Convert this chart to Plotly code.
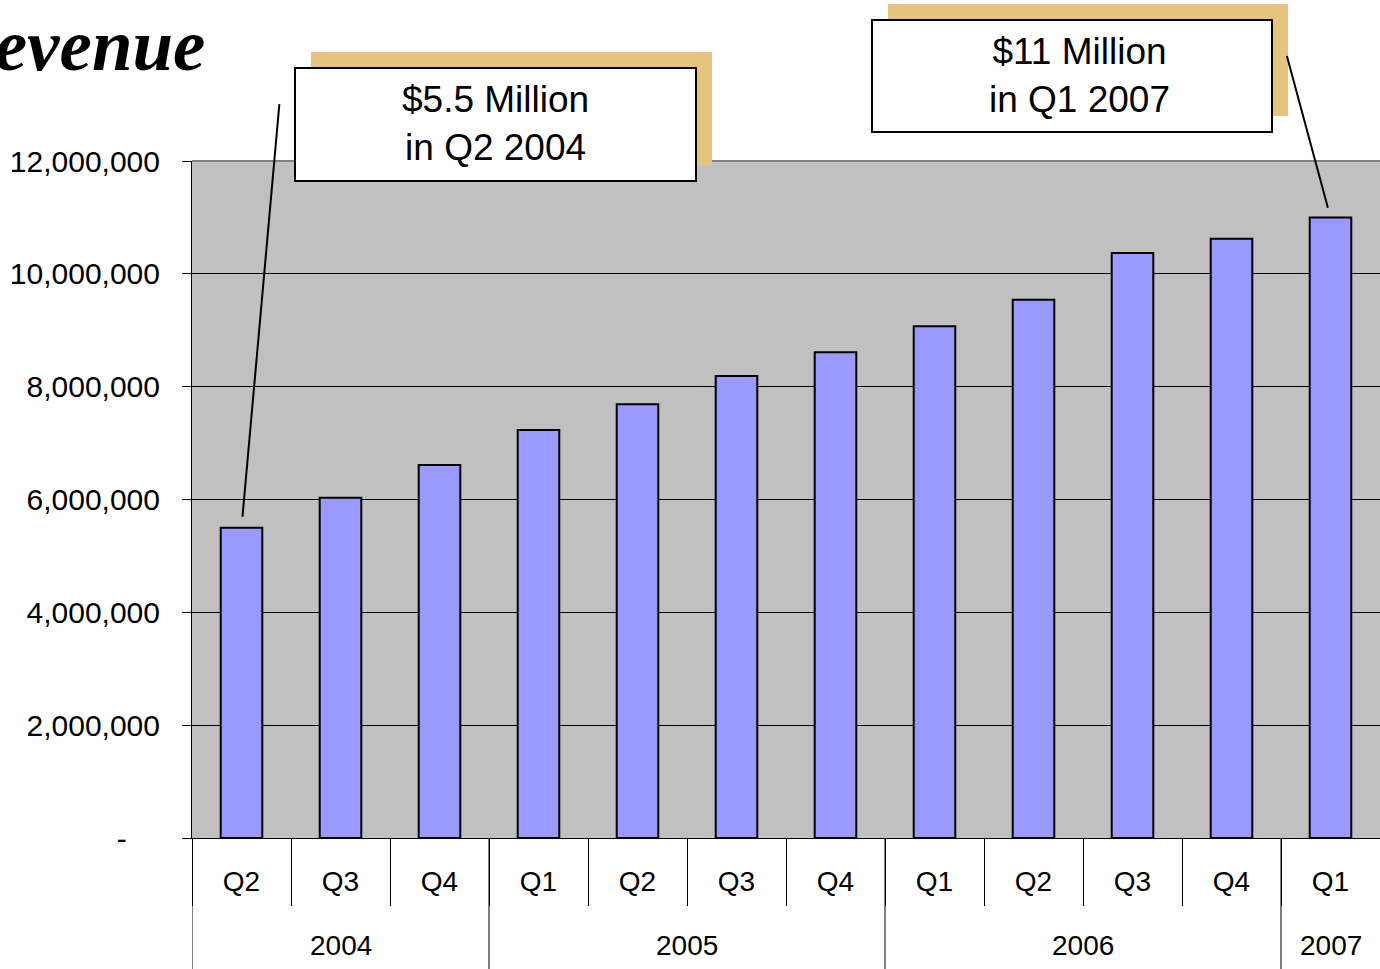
import plotly.graph_objects as go

# Quarterly revenue, Q2 2004 - Q1 2007
years = ["2004", "2004", "2004", "2005", "2005", "2005", "2005",
         "2006", "2006", "2006", "2006", "2007"]
quarters = ["Q2", "Q3", "Q4", "Q1", "Q2", "Q3", "Q4",
            "Q1", "Q2", "Q3", "Q4", "Q1"]
revenue = [5.5e6, 6.03e6, 6.61e6, 7.23e6, 7.69e6, 8.19e6, 8.61e6,
           9.07e6, 9.54e6, 10.37e6, 10.62e6, 11.0e6]

y_ticks = [0, 2e6, 4e6, 6e6, 8e6, 10e6, 12e6]
# accounting-style zero: a dash set in from the right edge
y_ticktext = ["-" + "\u00a0" * 4 if v == 0 else f"{int(v):,}" for v in y_ticks]

callouts = [
    {"text": "$5.5 Million<br>in Q2 2004", "idx": 0},
    {"text": "$11 Million<br>in Q1 2007", "idx": 11},
]

W, H = 1380, 969
L, R, T, B = 192, 0, 161, 131
PW, PH = W - L - R, H - T - B


def px_x(px):
    return (px - L) / PW


def px_y(py):
    return (H - B - py) / PH


cats = [f"{q} {y}" for y, q in zip(years, quarters)]

fig = go.Figure()
fig.add_trace(go.Bar(
    x=cats,
    y=revenue,
    width=0.42,
    marker=dict(color="#9999FF", line=dict(color="black", width=2)),
))

fig.update_layout(
    width=W, height=H,
    margin=dict(l=L, r=R, t=T, b=B, pad=0),
    paper_bgcolor="white",
    plot_bgcolor="#C0C0C0",
    showlegend=False,
    font=dict(family="Liberation Sans, Arial", size=28, color="black"),
)

fig.update_xaxes(
    type="category",
    categoryorder="array", categoryarray=cats,
    tickvals=cats, ticktext=quarters,
    range=[-0.5, len(revenue) - 0.5],
    showline=True, linecolor="black", linewidth=1,
    ticks="outside", tickson="boundaries", ticklen=67,
    tickcolor="black", tickwidth=1,
    tickfont=dict(size=28),
    ticklabelstandoff=18,
    showgrid=False,
)
fig.update_yaxes(
    range=[0, 12e6],
    tickvals=y_ticks, ticktext=y_ticktext,
    ticks="outside", ticklen=9, tickcolor="black",
    showline=True, linecolor="black", linewidth=1,
    showgrid=True, gridcolor="black", gridwidth=1,
    zeroline=False,
    tickfont=dict(size=30),
    ticklabelstandoff=16,
)

shapes = [
    # top border of the plotting area
    dict(type="line", xref="paper", yref="paper", x0=0, x1=1, y0=1, y1=1,
         line=dict(color="#808080", width=2)),
]
annotations = []

# year group labels and the long dividers between years
groups = []
for i, y in enumerate(years):
    if not groups or groups[-1][0] != y:
        groups.append([y, i, i])
    else:
        groups[-1][2] = i
for y, i0, i1 in groups:
    annotations.append(dict(xref="x", yref="paper", x=(i0 + i1) / 2,
                            y=px_y(945), text=y, showarrow=False,
                            font=dict(size=28), yanchor="middle"))
    shapes.append(dict(type="line", xref="x", yref="paper",
                       x0=i0 - 0.5, x1=i0 - 0.5, y0=0, y1=-B / PH,
                       line=dict(color="black", width=1)))

box_geom = [
    # (left, top, right, bottom) of each white callout box, in pixels
    (295, 68, 696, 181),
    (872, 20, 1272, 132),
]
shadow_off = 16
for c, (x0, y0, x1, y1) in zip(callouts, box_geom):
    shapes.append(dict(type="rect", xref="paper", yref="paper",
                       x0=px_x(x0 + shadow_off), x1=px_x(x1 + shadow_off),
                       y0=px_y(y0 - shadow_off), y1=px_y(y1 - shadow_off),
                       fillcolor="#E6C47E", line=dict(width=0), layer="above"))
    shapes.append(dict(type="rect", xref="paper", yref="paper",
                       x0=px_x(x0), x1=px_x(x1), y0=px_y(y0), y1=px_y(y1),
                       fillcolor="white", line=dict(color="black", width=2),
                       layer="above"))
    annotations.append(dict(xref="paper", yref="paper",
                            x=px_x((x0 + x1) / 2 + (7 if c["idx"] else 0)),
                            y=px_y((y0 + y1) / 2 - 1),
                            text=c["text"], showarrow=False,
                            font=dict(size=37, color="black"),
                            xanchor="center", yanchor="middle"))

# leader lines from the callouts down to their bars
leaders = [(38, -425, 11), (-44, -163, 10)]
for c, (ax, ay, so) in zip(callouts, leaders):
    annotations.append(dict(xref="x", yref="y", x=c["idx"], y=revenue[c["idx"]],
                            text="", showarrow=True, arrowhead=0, arrowwidth=2,
                            arrowcolor="black", ax=ax, ay=ay, standoff=so))

annotations.append(dict(xref="paper", yref="paper", x=px_x(208), y=px_y(45),
                        text="<b><i>Revenue</i></b>", showarrow=False,
                        xanchor="right", yanchor="middle",
                        font=dict(family="Liberation Serif, Times New Roman",
                                  size=73, color="black")))

fig.update_layout(shapes=shapes, annotations=annotations)
fig.write_html("out.html")
